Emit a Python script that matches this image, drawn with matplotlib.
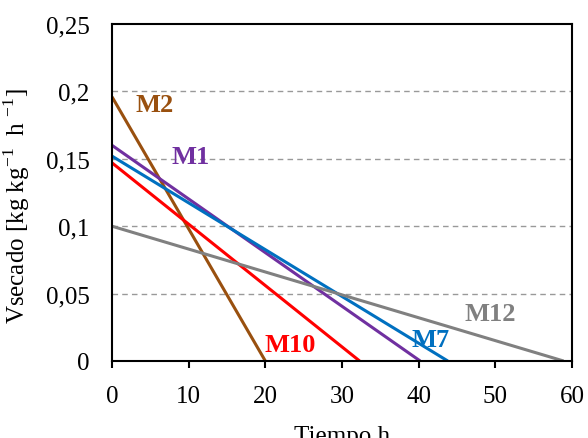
import matplotlib
matplotlib.use('Agg')
import matplotlib.pyplot as plt

plt.rcParams['font.family'] = ['Liberation Serif', 'DejaVu Serif']
plt.rcParams['mathtext.fontset'] = 'custom'
plt.rcParams['mathtext.rm'] = 'Liberation Serif'

# line data: (time at start, rate at start) -> (time at end, rate 0)
names = ['M2', 'M1', 'M7', 'M10', 'M12']
v_start = [0.196, 0.160, 0.152, 0.147, 0.100]
t_end = [20.0, 40.2, 43.8, 32.3, 58.9]
colors = ['#99500F', '#7030A0', '#0070C0', '#FF0000', '#808080']

# label positions (Tiempo, Vsecado)
label_t = [5.6, 10.2, 41.5, 23.2, 49.3]
label_v = [0.190, 0.152, 0.0163, 0.0126, 0.0349]

yticks = [0, 0.05, 0.1, 0.15, 0.2, 0.25]
ytick_labels = ['0', '0,05', '0,1', '0,15', '0,2', '0,25']
xticks = [0, 10, 20, 30, 40, 50, 60]

fig = plt.figure(figsize=(5.88, 4.39), dpi=100)
ax = fig.add_axes([0.1905, 0.1754, 0.7823, 0.7676])

# dashed gridlines
for y in yticks[1:-1]:
    ax.axhline(y, color='#999999', linestyle=(0, (4, 3)), linewidth=1, zorder=0)

for name, v0, te, c, lt, lv in zip(names, v_start, t_end, colors, label_t, label_v):
    ax.plot([0, te], [v0, 0], color=c, linewidth=2.2, solid_capstyle='butt')
    ax.text(lt, lv, name, color=c, fontsize=19, fontweight='bold',
            ha='center', va='center')

ax.set_xlim(0, 60)
ax.set_ylim(0, 0.25)
ax.set_xticks(xticks)
ax.set_yticks(yticks)
ax.set_yticklabels(ytick_labels)

for s in ax.spines.values():
    s.set_linewidth(1.5)

ax.tick_params(axis='x', direction='out', length=5, width=1.5, pad=12, labelsize=18)
ax.tick_params(axis='y', length=0, pad=16, labelsize=18)

ax.set_xlabel('Tiempo h', fontsize=18, labelpad=13)
ax.set_ylabel(r'Vsecado [kg kg$^{\mathregular{-1}}$  h $^{\mathregular{-1}}$]', fontsize=18, labelpad=8)
ax.yaxis.set_label_coords(-0.175, 0.463)

fig.savefig('out.png', dpi=100)
